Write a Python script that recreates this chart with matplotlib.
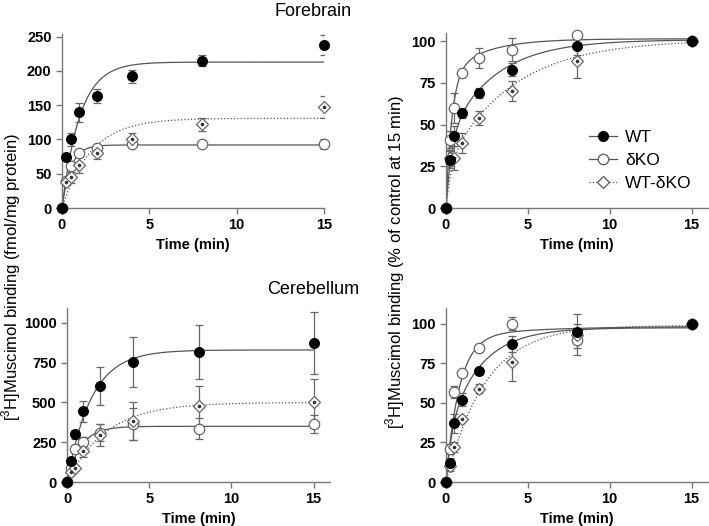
import numpy as np
import matplotlib
matplotlib.use("Agg")
import matplotlib.pyplot as plt
from matplotlib.lines import Line2D

plt.rcParams['font.family'] = ['Liberation Sans', 'DejaVu Sans']
plt.rcParams['mathtext.fontset'] = 'custom'
plt.rcParams['mathtext.rm'] = 'Liberation Sans'

time = [0, 0.25, 0.5, 1, 2, 4, 8, 15]
series_names = ['WT', 'δKO', 'WT-δKO']

# Forebrain, fmol/mg protein
fb_wt = [0, 74, 100, 140, 164, 192, 215, 238]
fb_wt_err = [0, 4, 10, 14, 10, 9, 8, 15]
fb_ko = [0, 40, 62, 80, 87, 93, 94, 93]
fb_ko_err = [0, 3, 5, 4, 4, 4, 3, 7]
fb_diff = [0, 38, 45, 63, 81, 101, 122, 147]
fb_diff_err = [0, 5, 8, 12, 10, 9, 9, 16]

# Forebrain, % of control at 15 min
fbp_wt = [0, 29, 43, 57, 69, 83, 97, 100]
fbp_wt_err = [0, 5, 6, 3, 3, 4, 5, 0]
fbp_ko = [0, 41, 60, 81, 90, 95, 104, 100]
fbp_ko_err = [0, 5, 9, 2, 6, 7, 2, 0]
fbp_diff = [0, 30, 30, 39, 54, 70, 88, 100]
fbp_diff_err = [0, 5, 7, 6, 4, 6, 10, 0]

# Cerebellum, fmol/mg protein
cb_wt = [0, 130, 300, 444, 606, 757, 818, 874]
cb_wt_err = [0, 20, 30, 65, 120, 157, 168, 195]
cb_ko = [0, 90, 205, 250, 310, 365, 335, 365]
cb_ko_err = [0, 15, 25, 30, 55, 100, 65, 55]
cb_diff = [0, 60, 90, 195, 295, 385, 480, 500]
cb_diff_err = [0, 15, 20, 35, 70, 120, 125, 148]

# Cerebellum, % of control at 15 min
cbp_wt = [0, 12, 37, 52, 70, 87, 95, 100]
cbp_wt_err = [0, 3, 6, 4, 2, 5, 5, 0]
cbp_ko = [0, 21, 57, 69, 85, 100, 90, 100]
cbp_ko_err = [0, 3, 4, 2, 1, 4, 5, 0]
cbp_diff = [0, 10, 22, 40, 59, 76, 93, 100]
cbp_diff_err = [0, 3, 3, 2, 3, 12, 13, 0]

# Fit parameters: (plateau, fast fraction, k fast, k slow)
fit_fb = [(213, 1.0, 0.97, 0.1), (92, 1.0, 2.0, 0.1), (131, 1.0, 0.6, 0.1)]
fit_fbp = [(101, 0.4, 3.0, 0.35), (101.5, 0.78, 2.8, 0.45), (101, 0.25, 3.0, 0.25)]
fit_cb = [(830, 1.0, 0.68, 0.1), (350, 1.0, 1.2, 0.1), (500, 1.0, 0.42, 0.1)]
fit_cbp = [(97.5, 0.3, 3.0, 0.5), (98.5, 0.93, 1.25, 0.2), (99, 1.0, 0.42, 0.1)]


def model(t, p):
    B, f, k1, k2 = p
    return B * (f * (1 - np.exp(-k1 * t)) + (1 - f) * (1 - np.exp(-k2 * t)))


W, H = 709, 526
fig = plt.figure(figsize=(W / 100, H / 100), dpi=100)

def px_axes(x0, x1, ytop, ybot):
    return fig.add_axes([x0 / W, 1 - ybot / H, (x1 - x0) / W, (ybot - ytop) / H])

panels = [
    (px_axes(62, 324, 34, 208), (0, 15), (0, 254), [0, 50, 100, 150, 200, 250],
     [(fb_wt, fb_wt_err), (fb_ko, fb_ko_err), (fb_diff, fb_diff_err)], fit_fb),
    (px_axes(446, 708, 33, 208), (0, 16), (0, 105), [0, 25, 50, 75, 100],
     [(fbp_wt, fbp_wt_err), (fbp_ko, fbp_ko_err), (fbp_diff, fbp_diff_err)], fit_fbp),
    (px_axes(67, 330, 308, 482), (0, 16), (0, 1094), [0, 250, 500, 750, 1000],
     [(cb_wt, cb_wt_err), (cb_ko, cb_ko_err), (cb_diff, cb_diff_err)], fit_cb),
    (px_axes(446, 708, 308, 482), (0, 16), (0, 110), [0, 25, 50, 75, 100],
     [(cbp_wt, cbp_wt_err), (cbp_ko, cbp_ko_err), (cbp_diff, cbp_diff_err)], fit_cbp),
]

spine_col = '#777777'
line_col = '#555555'
err_col = '#666666'
styles = [
    dict(marker='o', mfc='black', mec='black', ms=7, ls='-', z=7),
    dict(marker='o', mfc='white', mec='#666666', ms=7.5, ls='-', z=4),
    dict(marker='D', mfc='white', mec='#666666', ms=6, ls=':', z=5),
]

tt = np.linspace(0, 15, 300)
for ax, xl, yl, yt, data, fits in panels:
    for i, ((y, e), p) in enumerate(zip(data, fits)):
        st = styles[i]
        ax.plot(tt, model(tt, p), color=line_col, lw=0.9, ls=st['ls'], zorder=2)
        ax.errorbar(time, y, yerr=e, fmt='none', ecolor=err_col, elinewidth=0.9,
                    capsize=3, capthick=0.9, zorder=3)
        ax.plot(time, y, ls='none', marker=st['marker'], mfc=st['mfc'], mec=st['mec'],
                ms=st['ms'], mew=0.9, zorder=st['z'], clip_on=False)
        if i == 2:
            ax.plot(time, y, ls='none', marker='o', ms=1.6, mfc='#333333', mec='#333333',
                    zorder=st['z'] + 0.5, clip_on=False)
    ax.set_xlim(*xl)
    ax.set_ylim(*yl)
    ax.set_xticks([0, 5, 10, 15])
    ax.set_yticks(yt)
    for s in ['top', 'right']:
        ax.spines[s].set_visible(False)
    for s in ['left', 'bottom']:
        ax.spines[s].set_color(spine_col)
        ax.spines[s].set_linewidth(1.0)
    ax.tick_params(colors=spine_col, labelcolor='black', length=4, width=1.0, direction='out')
    for lab in ax.get_xticklabels() + ax.get_yticklabels():
        lab.set_fontweight('bold')
        lab.set_fontsize(10.5)
    ax.set_xlabel('Time (min)', fontsize=10.5, fontweight='bold', labelpad=4)
    ax.patch.set_alpha(0)

# legend in top-right panel
leg_handles = [
    Line2D([], [], color=line_col, lw=0.9, ls='-', marker='o', mfc='black', mec='black', ms=7),
    Line2D([], [], color=line_col, lw=0.9, ls='-', marker='o', mfc='white', mec='#666666', ms=7.5),
    Line2D([], [], color=line_col, lw=0.9, ls=':', marker='D', mfc='white', mec='#666666', ms=6),
]
panels[1][0].legend(leg_handles, series_names, loc='upper left',
                    bbox_to_anchor=((582 - 446) / 262, 1 - (123 - 33) / 175),
                    frameon=False, fontsize=12.5, handlelength=1.6, handletextpad=0.5,
                    labelspacing=0.45, borderaxespad=0)

fig.text(313 / W, 1 - 12 / H, 'Forebrain', ha='center', va='center', fontsize=13)
fig.text(313 / W, 1 - 290 / H, 'Cerebellum', ha='center', va='center', fontsize=13)
fig.text(11 / W, 1 - 277 / H, r'[$^{3}$H]Muscimol binding (fmol/mg protein)',
         rotation=90, ha='center', va='center', fontsize=12)
fig.text(395 / W, 1 - 262 / H, r'[$^{3}$H]Muscimol binding (% of control at 15 min)',
         rotation=90, ha='center', va='center', fontsize=12)

fig.savefig('out.png', dpi=100)
